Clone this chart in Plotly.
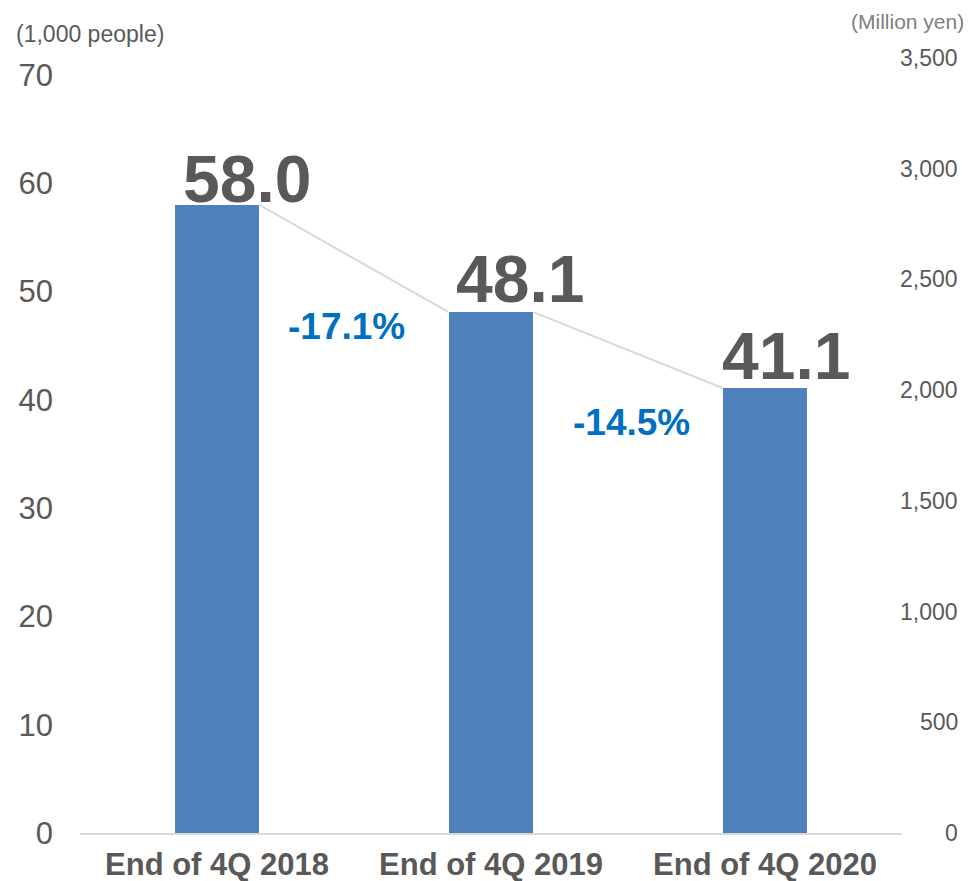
import plotly.graph_objects as go

# Data
categories = ["End of 4Q 2018", "End of 4Q 2019", "End of 4Q 2020"]
members = [58.0, 48.1, 41.1]          # (1,000 people)
change_labels = ["-17.1%", "-14.5%"]
left_ticks = [0, 10, 20, 30, 40, 50, 60, 70]
right_ticks = [0, 500, 1000, 1500, 2000, 2500, 3000, 3500]

# Styling
FONT = "Arial, 'Liberation Sans', sans-serif"
GREY = "#595959"
LIGHT_GREY = "#808080"
BAR_BLUE = "#4F81BD"
PCT_BLUE = "#0070C0"
LINE_GREY = "#D9D9D9"
BAR_WIDTH = 0.31
LEFT_MAX = 71.57
RIGHT_MAX = 3500

value_label_xshift = [30, 29, 21]
value_label_yshift = [-13, -6, -7]
change_label_pos = [(0.473, 46.8), (1.513, 37.9)]

x = list(range(len(categories)))

fig = go.Figure()

fig.add_trace(go.Bar(
    x=x, y=members, width=BAR_WIDTH,
    marker=dict(color=BAR_BLUE, line=dict(width=0)),
    hoverinfo="skip", showlegend=False,
))

# Connector lines between neighbouring bar tops
for i in range(len(members) - 1):
    fig.add_trace(go.Scatter(
        x=[x[i] + BAR_WIDTH / 2, x[i + 1] - BAR_WIDTH / 2],
        y=[members[i], members[i + 1]],
        mode="lines", line=dict(color=LINE_GREY, width=2),
        hoverinfo="skip", showlegend=False,
    ))

# Invisible trace so the secondary axis exists
fig.add_trace(go.Scatter(x=[None], y=[None], yaxis="y2", showlegend=False,
                         hoverinfo="skip"))

annotations = []
for i, v in enumerate(members):
    annotations.append(dict(
        x=x[i], y=v, xref="x", yref="y", text=f"{v:.1f}",
        showarrow=False, xanchor="center", yanchor="bottom",
        xshift=value_label_xshift[i], yshift=value_label_yshift[i],
        font=dict(family=FONT, size=66, color=GREY, weight="bold"),
    ))

for (px, py), txt in zip(change_label_pos, change_labels):
    annotations.append(dict(
        x=px, y=py, xref="x", yref="y", text=txt, showarrow=False,
        xanchor="center", yanchor="middle",
        font=dict(family=FONT, size=37, color=PCT_BLUE, weight="bold"),
    ))

# Right-hand axis labels, right aligned
for t in right_ticks:
    annotations.append(dict(
        x=1, y=t, xref="paper", yref="y2", text=f"{t:,}", showarrow=False,
        xanchor="right", yanchor="middle", xshift=58,
        font=dict(family=FONT, size=23, color=GREY),
    ))

annotations.append(dict(
    x=0, y=1, xref="paper", yref="paper", text="(1,000 people)",
    showarrow=False, xanchor="left", yanchor="middle", xshift=-66, yshift=24,
    font=dict(family=FONT, size=23, color=GREY),
))
annotations.append(dict(
    x=1, y=1, xref="paper", yref="paper", text="(Million yen)",
    showarrow=False, xanchor="right", yanchor="middle", xshift=64, yshift=37,
    font=dict(family=FONT, size=21, color=LIGHT_GREY),
))

fig.update_layout(
    width=969, height=881,
    margin=dict(l=80, r=67, t=58, b=48),
    paper_bgcolor="white", plot_bgcolor="white",
    bargap=0,
    xaxis=dict(
        range=[-0.5, 2.5], tickvals=x, ticktext=categories,
        showgrid=False, zeroline=False, automargin=False,
        showline=True, linecolor=LINE_GREY, linewidth=2,
        ticks="", ticklabelstandoff=3,
        tickfont=dict(family=FONT, size=31, color=GREY, weight="bold"),
    ),
    yaxis=dict(
        range=[0, LEFT_MAX], tickvals=left_ticks,
        showgrid=False, zeroline=False, showline=False, automargin=False,
        ticks="", ticklabelstandoff=26,
        tickfont=dict(family=FONT, size=31, color=GREY),
    ),
    yaxis2=dict(
        range=[0, RIGHT_MAX], overlaying="y", side="right",
        showgrid=False, zeroline=False, showline=False, automargin=False,
        showticklabels=False, ticks="",
    ),
    annotations=annotations,
)

fig.write_html("out.html")
